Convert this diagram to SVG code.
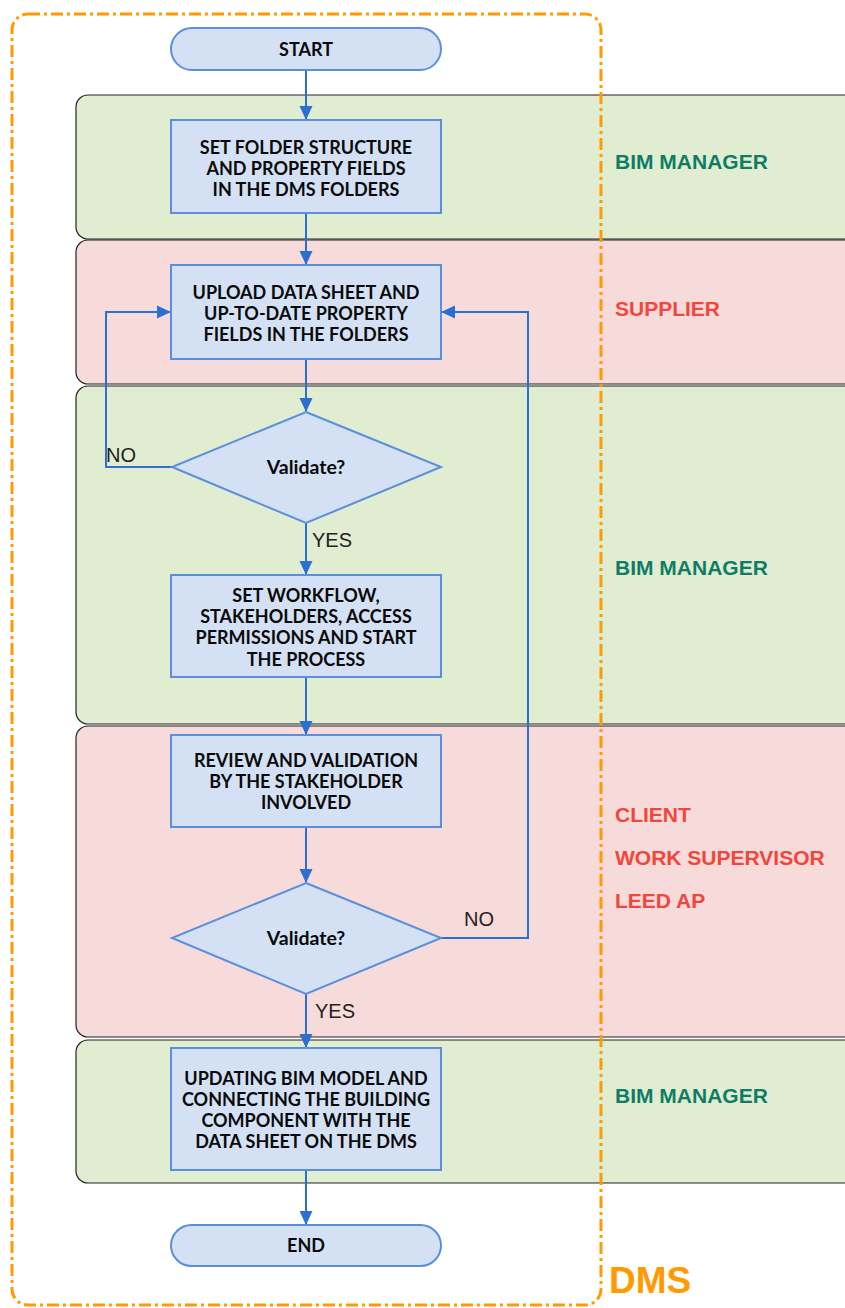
<svg xmlns="http://www.w3.org/2000/svg" width="845" height="1308" viewBox="0 0 845 1308">
<style>
.lane{stroke:#222;stroke-width:1.2}
.g{fill:#e1edd1}
.p{fill:#f7dbdb}
.node{fill:#d4e1f4;stroke:#5a8fdc;stroke-width:2}
.nt{font-family:Lato,"Liberation Sans",Arial,sans-serif;font-weight:bold;font-size:18px;fill:#0a0a0a;text-anchor:middle}
.vt{font-size:19.5px}
.conn{fill:none;stroke:#2b6fd3;stroke-width:2}
.lbl{font-family:"Liberation Sans",Arial,sans-serif;font-size:20px;fill:#222}
.ln{font-family:"Liberation Sans",Arial,sans-serif;font-weight:bold;font-size:21px}
.teal{fill:#0f7d66}
.red{fill:#f0463c}
</style>
<defs>
<marker id="ah" markerWidth="14" markerHeight="14" refX="13" refY="7" orient="auto" markerUnits="userSpaceOnUse" viewBox="0 0 14 14">
<path d="M0,0.5 L14,7 L0,13.5 z" fill="#2b6fd3"/>
</marker>
</defs>
<rect width="845" height="1308" fill="#fff"/>
<g id="lanes">
<rect id="lane1" class="lane g" x="76" y="95" width="790" height="144" rx="12"/>
<rect id="lane2" class="lane p" x="76" y="240" width="790" height="144" rx="12"/>
<rect id="lane3" class="lane g" x="76" y="386" width="790" height="338" rx="12"/>
<rect id="lane4" class="lane p" x="76" y="726" width="790" height="311" rx="12"/>
<rect id="lane5" class="lane g" x="76" y="1040" width="790" height="143" rx="12"/>
<text class="ln teal" x="615" y="169">BIM MANAGER</text>
<text class="ln red" x="615" y="316">SUPPLIER</text>
<text class="ln teal" x="615" y="575">BIM MANAGER</text>
<text class="ln red" x="615" y="822">CLIENT</text>
<text class="ln red" x="615" y="865">WORK SUPERVISOR</text>
<text class="ln red" x="615" y="908">LEED AP</text>
<text class="ln teal" x="615" y="1103">BIM MANAGER</text>
</g>
<g id="dms">
<rect x="12" y="14" width="589" height="1291" rx="16" fill="none" stroke="#ff9a00" stroke-width="3" stroke-dasharray="12,4,3,4"/>
<text x="609" y="1293" font-family="Liberation Sans,Arial,sans-serif" font-weight="bold" font-size="37" fill="#ff9a00">DMS</text>
</g>
<g id="connectors">
<path class="conn" d="M306,70 V119" marker-end="url(#ah)"/>
<path class="conn" d="M306,213 V264" marker-end="url(#ah)"/>
<path class="conn" d="M306,359 V411" marker-end="url(#ah)"/>
<path class="conn" d="M172,467 H106 V312 H170" marker-end="url(#ah)"/>
<path class="conn" d="M306,523 V574" marker-end="url(#ah)"/>
<path class="conn" d="M306,677 V734" marker-end="url(#ah)"/>
<path class="conn" d="M306,827 V882" marker-end="url(#ah)"/>
<path class="conn" d="M441,938 H528 V312 H442" marker-end="url(#ah)"/>
<path class="conn" d="M306,994 V1047" marker-end="url(#ah)"/>
<path class="conn" d="M306,1170 V1224" marker-end="url(#ah)"/>
<text class="lbl" x="106" y="462">NO</text>
<text class="lbl" x="312" y="547">YES</text>
<text class="lbl" x="464" y="926">NO</text>
<text class="lbl" x="315" y="1018">YES</text>
</g>
<g id="start">
<rect class="node" x="171" y="28" width="270" height="42" rx="21"/>
<text class="nt" x="306" y="56">START</text>
</g>
<g id="box1">
<rect class="node" x="171" y="120" width="270" height="93"/>
<text class="nt" x="306" y="154">SET FOLDER STRUCTURE</text>
<text class="nt" x="306" y="175">AND PROPERTY  FIELDS</text>
<text class="nt" x="306" y="196">IN THE DMS FOLDERS</text>
</g>
<g id="box2">
<rect class="node" x="171" y="265" width="270" height="94"/>
<text class="nt" x="306" y="299">UPLOAD DATA SHEET AND</text>
<text class="nt" x="306" y="320">UP-TO-DATE PROPERTY</text>
<text class="nt" x="306" y="341">FIELDS IN THE FOLDERS</text>
</g>
<g id="dec1">
<polygon class="node" points="306,412 441,467 306,523 172,467"/>
<text class="nt vt" x="306" y="474">Validate?</text>
</g>
<g id="box3">
<rect class="node" x="171" y="575" width="270" height="102"/>
<text class="nt" x="306" y="602">SET WORKFLOW,</text>
<text class="nt" x="306" y="623">STAKEHOLDERS, ACCESS</text>
<text class="nt" x="306" y="644">PERMISSIONS AND START</text>
<text class="nt" x="306" y="666">THE PROCESS</text>
</g>
<g id="box4">
<rect class="node" x="171" y="735" width="270" height="92"/>
<text class="nt" x="306" y="767">REVIEW AND VALIDATION</text>
<text class="nt" x="306" y="788">BY THE STAKEHOLDER</text>
<text class="nt" x="306" y="809">INVOLVED</text>
</g>
<g id="dec2">
<polygon class="node" points="306,883 441,938 306,994 172,938"/>
<text class="nt vt" x="306" y="945">Validate?</text>
</g>
<g id="box5">
<rect class="node" x="171" y="1048" width="270" height="122"/>
<text class="nt" x="306" y="1085">UPDATING BIM MODEL AND</text>
<text class="nt" x="306" y="1106">CONNECTING THE BUILDING</text>
<text class="nt" x="306" y="1127">COMPONENT WITH THE</text>
<text class="nt" x="306" y="1148">DATA SHEET ON THE DMS</text>
</g>
<g id="end">
<rect class="node" x="171" y="1225" width="270" height="41" rx="20.5"/>
<text class="nt" x="306" y="1252">END</text>
</g>
</svg>
